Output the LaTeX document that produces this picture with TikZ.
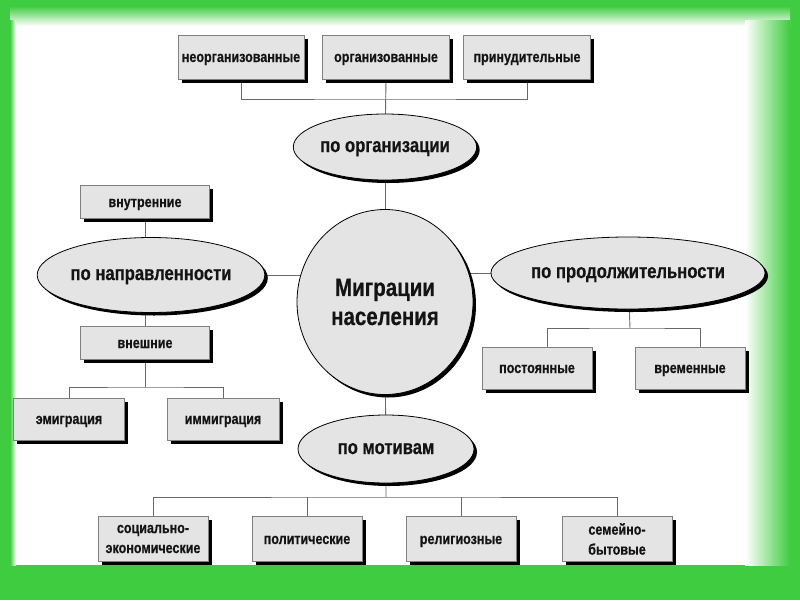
\documentclass[tikz,border=0pt]{standalone}
\usepackage{fontspec}
\setmainfont{Liberation Sans}[FakeStretch=0.82, BoldFeatures={FakeBold=0.6}]
\usetikzlibrary{shapes.geometric,shadows}
\pgfdeclarelayer{bg}
\pgfsetlayers{bg,main}
\definecolor{frgreen}{RGB}{64,204,64}
\definecolor{boxgray}{RGB}{228,228,228}
\definecolor{linegray}{RGB}{105,105,105}
\definecolor{txtdark}{RGB}{20,20,20}
\begin{document}
\begin{tikzpicture}[x=1pt,y=-1pt,
  box/.style={rectangle, draw=gray, line width=0.8pt, fill=boxgray, inner sep=0pt,
    minimum width=110pt, minimum height=42pt, align=center, text=txtdark,
    text height=1.1em, text depth=0.1em,
    font=\fontsize{15.3}{20}\selectfont\bfseries,
    drop shadow={shadow xshift=3.5pt, shadow yshift=-3.5pt, fill=black, opacity=1}},
  twoline/.style={text height=, text depth=},
  oval/.style={ellipse, draw=black, line width=0.8pt, fill=boxgray, inner sep=0pt,
    align=center, text=txtdark, text height=1.1em, text depth=0.1em,
    font=\fontsize{20.3}{24}\selectfont\bfseries,
    drop shadow={shadow xshift=3pt, shadow yshift=-3pt, fill=black, opacity=1}},
  link/.style={draw=linegray, line width=0.9pt}]
\useasboundingbox (0,0) rectangle (800,600);
\begin{pgfonlayer}{bg}
\fill[white] (0,0) rectangle (800,600);
\fill[frgreen] (0,0) rectangle (800,6);
\fill[frgreen] (0,0) rectangle (10,600);
\fill[frgreen] (790,0) rectangle (800,600);
\fill[frgreen] (0,565) rectangle (800,600);
\shade[top color=frgreen, bottom color=white] (10,6) rectangle (790,26);
\shade[left color=frgreen, right color=white] (10,20) rectangle (16,565);
\shade[left color=white, right color=frgreen] (745,20) rectangle (790,565);
\end{pgfonlayer}

\node[oval, twoline, minimum width=176pt, minimum height=185pt, font=\fontsize{25}{29}\selectfont\bfseries] (migr) at (385,302) {Миграции\\населения};

\node[oval, minimum width=174pt, minimum height=66pt] (porg) at (385,147) {по организации};
\node[box, minimum width=126pt, minimum height=44pt] (neorg) at (241,57) {неорганизованные};
\node[box, minimum width=127pt, minimum height=44pt] (org) at (386,57) {организованные};
\node[box, minimum width=127pt, minimum height=44pt] (prin) at (527,57) {принудительные};

\node[oval, minimum width=178pt, minimum height=75pt] (pdir) at (151,275) {по направленности};
\node[box, minimum width=129pt, minimum height=33pt] (vnutr) at (145,202) {внутренние};
\node[box, minimum width=129pt, minimum height=33pt] (vnesh) at (145,343) {внешние};
\node[box, minimum width=111pt, minimum height=42pt] (emig) at (69,419) {эмиграция};
\node[box, minimum width=112pt, minimum height=42pt] (immig) at (223,419) {иммиграция};

\node[oval, minimum width=238pt, minimum height=72pt] (pdur) at (628,273) {по продолжительности};
\node[box] (post) at (537,368) {постоянные};
\node[box] (vrem) at (690,368) {временные};

\node[oval, minimum width=176pt, minimum height=68pt] (pmot) at (386,449) {по мотивам};
\node[box, twoline, minimum height=45pt] (socec) at (153,539) {социально-\\экономические};
\node[box, minimum height=45pt] (polit) at (307,539) {политические};
\node[box, minimum height=45pt] (relig) at (461,539) {религиозные};
\node[box, twoline, minimum height=45pt] (semb) at (617,539) {семейно-\\бытовые};

\coordinate (orgbus) at (386,99);
\coordinate (emibus) at (145,387);
\coordinate (durbus) at (630,328);
\coordinate (motbus) at (386,497);

\begin{pgfonlayer}{bg}
\draw[link] (neorg.south) |- (orgbus) -| (prin.south);
\draw[link] (org.south) -- (porg.center);
\draw[link] (porg.center) -- (migr.center);
\draw[link] (vnutr.south) -- (vnesh.north);
\draw[link] (vnesh.south) -- (emibus);
\draw[link] (emig.north) |- (emibus) -| (immig.north);
\draw[link] (pdir.center) -- (migr.center |- pdir.center);
\draw[link] (pdur.center) -- (migr.center |- pdur.center);
\draw[link] (pdur.center) -- (durbus);
\draw[link] ([xshift=10pt]post.north) |- (durbus) -| ([xshift=10pt]vrem.north);
\draw[link] (migr.center) -- (motbus);
\draw[link] (socec.north) |- (motbus) -| (semb.north);
\draw[link] (polit.north) -- (polit.north |- motbus);
\draw[link] (relig.north) -- (relig.north |- motbus);
\end{pgfonlayer}
\end{tikzpicture}
\end{document}
